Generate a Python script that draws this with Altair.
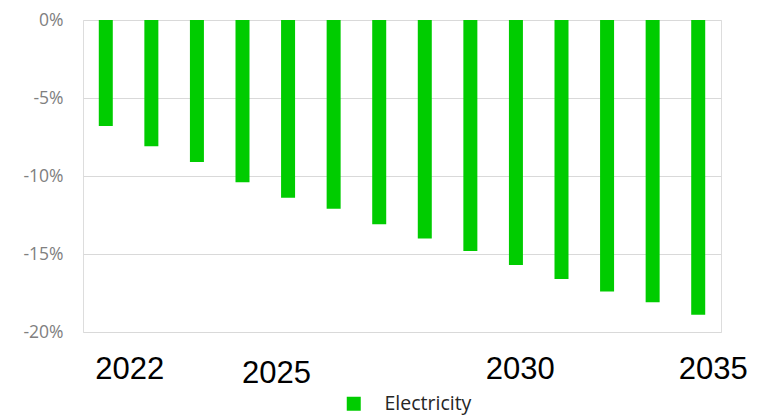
import altair as alt
import pandas as pd

# Annual change relative to baseline, percent
years = [2022, 2023, 2024, 2025, 2026, 2027, 2028, 2029, 2030, 2031, 2032, 2033, 2034, 2035]
electricity = [-6.8, -8.1, -9.1, -10.4, -11.4, -12.1, -13.1, -14.0, -14.8, -15.7, -16.6, -17.4, -18.1, -18.9]
series_name = "Electricity"
tick_years = [2022, 2025, 2030, 2035]
y_ticks = [0, -5, -10, -15, -20]

df = pd.DataFrame({"year": years, "change": electricity, "series": [series_name] * len(years)})

x_axis = alt.Axis(
    values=tick_years,
    title=None,
    ticks=False,
    tickSize=0,
    domain=False,
    grid=False,
    labelAngle=0,
    labelFont="Liberation Sans",
    labelFontSize=31,
    labelColor="#000000",
    labelBaseline="alphabetic",
    labelAlign="center",
    labelPadding={"condition": {"test": "datum.value == 2025", "value": 50}, "value": 46},
    labelOffset={
        "condition": [
            {"test": "datum.value == 2022", "value": 24},
            {"test": "datum.value == 2025", "value": 34},
            {"test": "datum.value == 2030", "value": 50},
        ],
        "value": 15,
    },
    labelOverlap=False,
    labelBound=False,
)

y_axis = alt.Axis(
    values=y_ticks,
    labelExpr="datum.value + '%'",
    title=None,
    domain=False,
    ticks=False,
    tickSize=0,
    labelPadding=20,
    labelFont="Open Sans",
    labelFontSize=17.5,
    labelColor="#808080",
    gridColor="#d9d9d9",
    gridWidth=1,
)

chart = (
    alt.Chart(df)
    .mark_bar(size=14)
    .encode(
        x=alt.X("year:O", axis=x_axis, scale=alt.Scale(paddingInner=0, paddingOuter=0)),
        y=alt.Y("change:Q", axis=y_axis, scale=alt.Scale(domain=[-20, 0], nice=False)),
        color=alt.Color(
            "series:N",
            scale=alt.Scale(range=["#00cc00"]),
            legend=alt.Legend(
                title=None,
                orient="none",
                legendX=261,
                legendY=374,
                symbolType="square",
                symbolSize=196,
                symbolStrokeWidth=0,
                labelFont="Open Sans",
                labelFontSize=19.5,
                labelColor="#262626",
                labelOffset=21,
            ),
        ),
    )
    .properties(
        width=638,
        height=312,
        autosize=alt.AutoSizeParams(type="none"),
        padding={"left": 83, "top": 20, "right": 40, "bottom": 83},
    )
    .configure_view(stroke=None)
    .configure(background="#ffffff")
)

chart.save("out.html", embed_options={"renderer": "svg", "actions": False})
